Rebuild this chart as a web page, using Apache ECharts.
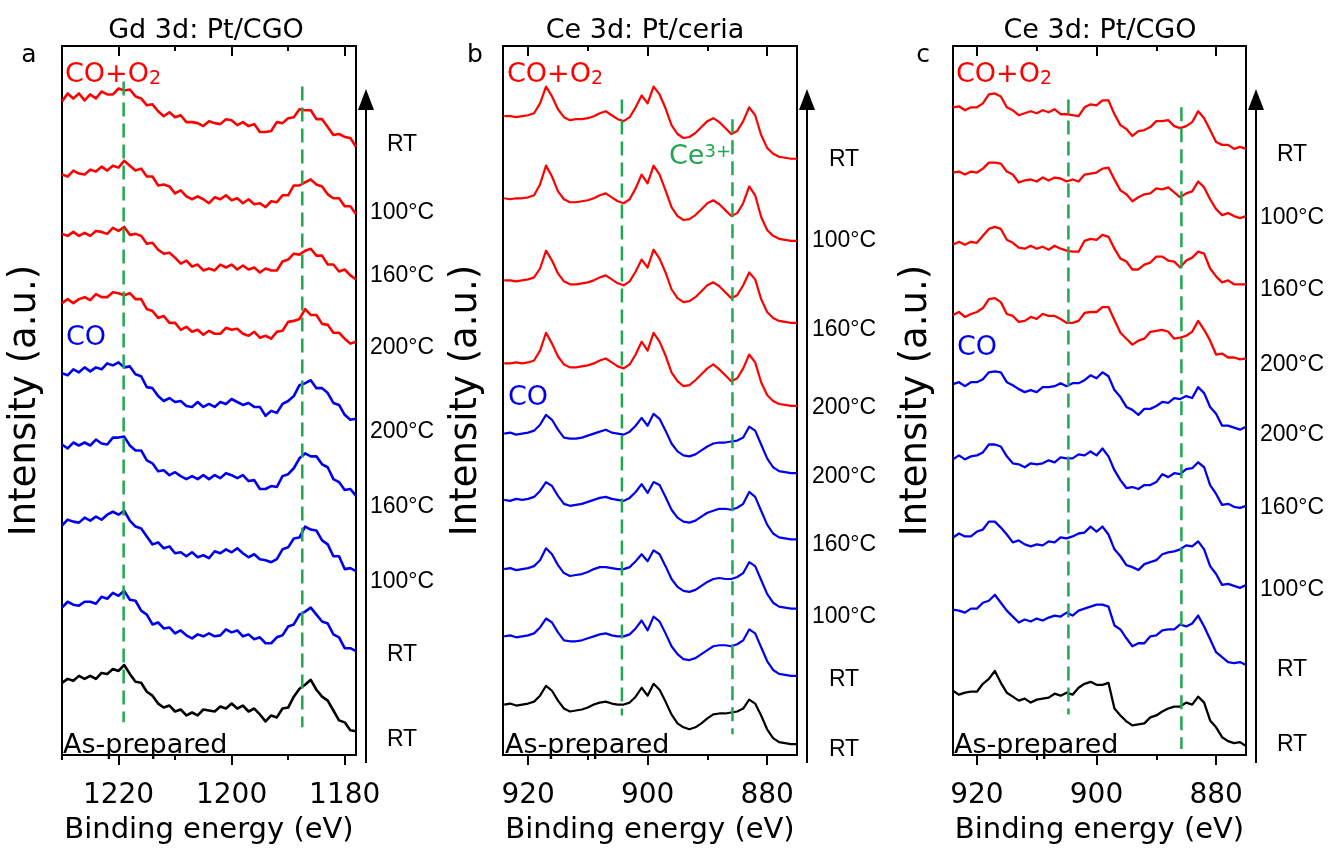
<!DOCTYPE html>
<html><head><meta charset="utf-8">
<script src="https://cdn.jsdelivr.net/npm/echarts@6/dist/echarts.min.js"></script>
<style>html,body{margin:0;padding:0;background:#fff}#c{width:1331px;height:850px}</style>
</head><body><div id="c"></div><script>
// ---------- binding energies (eV) ----------
const energyA = [1230,1229,1228,1227,1226,1225,1224,1223,1222,1221,1220,1219,1218,1217,1216,1215,1214,1213,1212,1211,1210,1209,1208,1207,1206,1205,1204,1203,1202,1201,1200,1199,1198,1197,1196,1195,1194,1193,1192,1191,1190,1189,1188,1187,1186,1185,1184,1183,1182,1181,1180,1179,1178];
const energyBC = [924,923,922,921,920,919,918,917,916,915,914,913,912,911,910,909,908,907,906,905,904,903,902,901,900,899,898,897,896,895,894,893,892,891,890,889,888,887,886,885,884,883,882,881,880,879,878,877,876,875];

// ---------- tick values ----------
const ticksA = [1180,1200,1220];
const minorA = [1190,1210,1230];
const ticksBC = [880,900,920];
const minorBC = [890,910];

// ---------- condition labels (top to bottom) ----------
const condLabels = ['RT','100°C','160°C','200°C','200°C','160°C','100°C','RT','RT'];

// ---------- panel a: Gd 3d Pt/CGO (stacked intensities, a.u.) ----------
const gd_O2_RT  = [661,669,664,669,662,668,664,671,668,668,674,672,673,666,664,657,658,651,646,650,645,647,640,640,639,636,641,639,638,643,642,637,640,636,638,630,630,631,640,639,644,645,653,652,652,643,643,635,627,628,625,624,615];
const gd_O2_100 = [587,585,591,588,587,592,590,595,591,596,594,601,596,591,593,585,585,576,577,575,568,571,565,562,565,562,558,564,562,566,561,563,558,562,557,558,554,560,559,566,566,576,576,579,582,577,575,567,563,563,555,555,547];
const gd_O2_160 = [527,525,529,525,528,525,530,529,527,533,530,534,526,527,525,517,518,511,507,508,503,497,500,494,496,490,492,490,496,493,496,491,495,491,493,488,492,490,490,499,501,507,506,510,512,505,505,496,496,489,491,485,481];
const gd_O2_200 = [457,461,457,461,463,460,466,463,463,468,467,465,467,461,461,451,449,442,444,437,437,430,433,428,430,425,429,426,426,432,430,431,426,424,428,422,424,421,428,429,438,439,441,451,445,445,436,435,427,427,421,416,418];
const gd_CO_200 = [386,384,390,387,392,388,392,390,396,394,397,392,393,385,383,372,371,363,358,361,357,358,353,352,357,352,355,352,357,355,360,357,354,356,352,352,343,348,346,355,358,363,374,376,379,371,371,366,356,354,344,339,340];
const gd_CO_160 = [314,310,316,313,316,313,319,315,314,321,321,322,313,308,308,298,295,287,288,283,286,282,279,282,279,283,279,283,280,285,283,280,283,277,278,269,269,272,271,282,284,290,300,305,302,302,294,291,279,276,268,269,262];
const gd_CO_100 = [232,238,236,235,240,237,241,238,243,246,243,247,237,231,229,221,213,215,209,211,204,205,201,205,200,202,199,206,204,208,205,209,204,200,203,198,197,195,198,208,210,219,220,231,228,227,217,213,201,201,188,189,186];
const gd_CO_RT  = [149,155,152,151,155,155,153,160,158,164,161,166,157,156,146,142,132,134,128,129,123,126,121,118,122,120,123,120,121,127,124,126,120,122,117,119,113,113,119,121,130,132,142,145,149,142,135,133,122,119,108,108,105];
const gd_asPrep = [73,77,75,80,77,80,77,83,82,87,85,91,82,74,73,64,60,52,48,50,44,46,40,43,40,46,45,44,49,47,52,47,50,44,47,41,34,40,38,47,48,59,67,71,76,66,59,55,45,35,33,25,24];

// ---------- panel b: Ce 3d Pt/ceria ----------
const ceria_O2_RT  = [646,646,645,646,647,649,659,676,666,653,645,642,643,643,644,646,649,651,647,643,641,645,655,667,659,676,668,654,637,628,624,625,629,635,641,644,640,634,628,631,641,655,647,627,614,608,605,604,603,603];
const ceria_O2_100 = [563,562,563,563,564,566,577,596,585,570,562,559,559,560,561,563,566,568,564,560,558,562,573,587,578,596,587,571,554,545,541,542,546,552,558,561,557,551,545,548,558,575,566,544,531,525,522,521,520,520];
const ceria_O2_160 = [480,480,479,480,481,483,492,510,500,487,479,476,476,477,478,480,483,485,481,477,475,479,489,501,493,511,502,488,471,462,458,459,463,469,475,478,474,468,462,465,475,488,481,461,448,442,439,438,437,437];
const ceria_O2_200 = [396,396,397,396,397,399,409,427,416,403,395,392,392,393,394,396,399,401,397,393,391,395,405,418,409,427,418,404,387,378,373,374,379,385,391,395,390,384,378,381,391,405,397,377,364,358,355,354,353,353];
const ceria_CO_200 = [325,326,324,325,326,328,334,344,339,329,321,320,320,321,323,325,327,329,326,325,324,327,333,341,333,345,340,328,315,307,303,302,304,308,312,315,316,316,317,318,321,332,328,314,300,291,287,286,285,285];
const ceria_CO_160 = [258,257,259,258,259,261,267,276,272,262,254,252,253,254,256,258,260,261,259,258,257,260,266,274,265,276,273,261,248,240,236,235,237,241,245,247,249,249,248,250,254,266,261,247,233,224,220,219,218,218];
const ceria_CO_100 = [188,189,187,188,189,191,197,209,203,192,184,181,182,183,185,188,190,190,189,188,188,190,196,203,196,207,203,191,178,170,166,165,167,171,175,178,179,178,178,180,184,195,191,177,163,154,150,149,148,148];
const ceria_CO_RT  = [120,121,119,120,121,123,129,138,134,124,116,115,115,116,118,120,122,123,121,120,120,122,128,136,126,140,135,123,110,102,97,96,98,102,106,110,111,111,110,112,116,127,123,109,95,86,82,81,80,80];
const ceria_asPrep = [51,52,50,51,52,54,60,70,65,55,47,44,45,46,48,51,53,54,52,51,51,53,59,68,60,72,66,54,41,32,28,26,28,32,37,41,42,42,43,44,47,56,52,40,26,17,13,12,11,11];

// ---------- panel c: Ce 3d Pt/CGO ----------
const cgo_O2_RT  = [655,656,652,655,655,659,668,669,666,655,652,647,649,651,649,652,650,653,648,648,647,646,655,658,657,662,662,648,637,633,626,631,632,635,641,641,642,636,634,636,640,651,644,632,620,617,617,613,615,613];
const cgo_O2_100 = [589,590,587,590,589,593,599,599,598,590,587,579,581,582,580,584,581,584,583,580,582,580,587,588,589,593,594,582,571,567,560,564,567,568,573,572,574,569,564,568,570,580,574,562,552,546,548,545,543,545];
const cgo_O2_160 = [516,519,516,519,518,525,532,534,532,521,518,513,512,515,512,514,511,515,512,510,509,509,520,522,521,526,524,512,502,499,491,491,496,498,504,504,500,499,493,500,503,509,507,492,484,478,480,476,476,476];
const cgo_O2_200 = [445,448,443,446,448,452,461,462,458,446,444,438,439,443,441,446,444,444,441,437,437,439,447,448,448,453,453,440,427,421,415,419,421,428,429,430,428,421,422,424,428,439,430,419,405,406,402,402,400,401];
const cgo_CO_200 = [375,377,373,377,377,380,387,388,387,377,374,370,367,369,367,372,372,373,376,373,376,376,379,384,381,387,383,369,362,352,349,344,350,350,353,357,356,361,360,363,361,372,366,352,345,333,333,331,329,332];
const cgo_CO_160 = [299,303,299,302,303,306,314,314,312,302,295,294,291,295,294,295,298,296,301,300,300,304,303,307,303,310,302,288,278,270,271,269,273,273,276,284,281,285,284,289,290,296,291,273,264,253,254,251,250,252];
const cgo_CO_100 = [220,224,221,221,226,228,236,236,230,223,215,217,213,211,213,212,216,215,220,219,221,224,225,231,226,231,223,208,201,192,190,187,193,195,197,203,205,206,208,212,211,216,208,191,183,172,173,171,169,172];
const cgo_CO_RT  = [147,146,144,148,148,154,156,162,154,146,140,134,137,135,138,136,139,141,140,144,141,146,148,150,152,152,150,131,127,118,110,113,113,120,121,126,127,127,132,130,133,141,130,117,104,99,94,93,94,91];
const cgo_asPrep = [65,61,63,64,64,72,77,85,73,63,59,55,57,53,56,57,58,62,60,63,61,68,72,74,71,71,73,47,40,34,30,31,32,38,40,44,47,49,49,53,51,59,53,35,28,18,14,12,13,9];

// ---------- dashed guide lines (energy, top, bottom in a.u.) ----------
const guideA_E = [1219.1, 1187.5], guideA_top = [681, 676], guideA_bot = [33, 28];
const guideB_E = [904.3, 885.8],   guideB_top = [663, 643], guideB_bot = [40, 21];
const guideC_E = [904.7, 885.8],   guideC_top = [663, 655], guideC_bot = [41, 6];

// ---------- layout / styling ----------
const RED = '#ff0000', BLUE = '#0000f0', BLACK = '#000000', GREEN = '#1fa84f';
const specColors = [RED,RED,RED,RED,BLUE,BLUE,BLUE,BLUE,BLACK];
const FONT = 'DejaVu Sans';
const panels = [
  {left:62, width:294, min:1178, max:1230, energies:energyA, major:ticksA, minor:minorA, lw:2.6,
   spectra:[gd_O2_RT,gd_O2_100,gd_O2_160,gd_O2_200,gd_CO_200,gd_CO_160,gd_CO_100,gd_CO_RT,gd_asPrep],
   gE:guideA_E, gT:guideA_top, gB:guideA_bot,
   title:'Gd 3d: Pt/CGO', titleX:206, letter:'a', letterX:29, labelX:402,
   labelYs:[145,213,276,348,432,507,582,655,740], arrowX:366, tagX:65, coY:338},
  {left:503, width:294, min:875, max:924.2, energies:energyBC, major:ticksBC, minor:minorBC, lw:2.2,
   spectra:[ceria_O2_RT,ceria_O2_100,ceria_O2_160,ceria_O2_200,ceria_CO_200,ceria_CO_160,ceria_CO_100,ceria_CO_RT,ceria_asPrep],
   gE:guideB_E, gT:guideB_top, gB:guideB_bot,
   title:'Ce 3d: Pt/ceria', titleX:645, letter:'b', letterX:475, labelX:844,
   labelYs:[160,241,330,408,477,545,617,680,750], arrowX:807, tagX:507, coY:398},
  {left:953, width:293, min:875, max:924, energies:energyBC, major:ticksBC, minor:minorBC, lw:2.3,
   spectra:[cgo_O2_RT,cgo_O2_100,cgo_O2_160,cgo_O2_200,cgo_CO_200,cgo_CO_160,cgo_CO_100,cgo_CO_RT,cgo_asPrep],
   gE:guideC_E, gT:guideC_top, gB:guideC_bot,
   title:'Ce 3d: Pt/CGO', titleX:1100, letter:'c', letterX:923, labelX:1292,
   labelYs:[155,218,290,365,435,508,590,670,745], arrowX:1256, tagX:956, coY:348}
];

const grid = [], xAxis = [], yAxis = [], series = [], graphic = [];
const lineBlack = {color:'#000', width:2};
panels.forEach((p, i) => {
  grid.push({left:p.left, top:46, width:p.width, height:717, containLabel:false});
  const base = {gridIndex:i, type:'value', min:p.min, max:p.max, inverse:true, splitLine:{show:false}};
  xAxis.push(Object.assign({}, base, {position:'bottom',
    axisLine:{show:true, onZero:false, lineStyle:lineBlack},
    axisTick:{show:true, inside:false, length:10, customValues:p.major, lineStyle:lineBlack},
    axisLabel:{show:true, customValues:p.major, formatter:v => String(v), fontSize:28, fontFamily:FONT, color:'#000', margin:27},
    name:'Binding energy (eV)', nameLocation:'middle', nameGap:61,
    nameTextStyle:{fontSize:29, fontFamily:FONT, color:'#000'}}));
  xAxis.push(Object.assign({}, base, {position:'bottom',
    axisLine:{show:false, onZero:false}, axisLabel:{show:false},
    axisTick:{show:true, inside:false, length:5, customValues:p.minor, lineStyle:lineBlack}}));
  xAxis.push(Object.assign({}, base, {position:'top',
    axisLine:{show:true, onZero:false, lineStyle:lineBlack}, axisLabel:{show:false},
    axisTick:{show:true, inside:true, length:10, customValues:p.major, lineStyle:lineBlack}}));
  xAxis.push(Object.assign({}, base, {position:'top',
    axisLine:{show:false, onZero:false}, axisLabel:{show:false},
    axisTick:{show:true, inside:true, length:5, customValues:p.minor, lineStyle:lineBlack}}));
  yAxis.push({gridIndex:i, type:'value', min:0, max:717, position:'left',
    axisLine:{show:true, onZero:false, lineStyle:lineBlack}, axisTick:{show:false}, axisLabel:{show:false},
    splitLine:{show:false}, name:'Intensity (a.u.)', nameLocation:'middle', nameGap:18, nameRotate:90,
    nameTextStyle:{fontSize:37, fontFamily:FONT, color:'#000'}});
  yAxis.push({gridIndex:i, type:'value', min:0, max:717, position:'right',
    axisLine:{show:true, onZero:false, lineStyle:lineBlack}, axisTick:{show:false}, axisLabel:{show:false},
    splitLine:{show:false}});

  p.spectra.forEach((vals, k) => {
    series.push({type:'line', xAxisIndex:4*i, yAxisIndex:2*i, showSymbol:false, silent:true,
      data:p.energies.map((e, j) => [e, vals[j]]), z:2,
      lineStyle:{color:specColors[k], width:p.lw, join:'round'}, itemStyle:{color:specColors[k]}});
  });
  p.gE.forEach((e, k) => {
    series.push({type:'line', xAxisIndex:4*i, yAxisIndex:2*i, showSymbol:false, silent:true, z:5,
      data:[[e, p.gT[k]], [e, p.gB[k]]],
      lineStyle:{color:GREEN, width:2.5, type:[14,7]}});
  });

  // titles, panel letters, annotations
  graphic.push({type:'text', x:p.titleX, y:31, style:{text:p.title, fontSize:27, fontFamily:FONT, fill:'#000', align:'center', verticalAlign:'middle'}});
  graphic.push({type:'text', x:p.letterX, y:55, style:{text:p.letter, fontSize:25, fontFamily:FONT, fill:'#000', align:'center', verticalAlign:'middle'}});
  graphic.push({type:'text', x:p.tagX, y:75, style:{text:'{m|CO+O}{s|2}', fill:RED, align:'left', verticalAlign:'middle',
    rich:{m:{fontSize:27, fontFamily:FONT, fill:RED, verticalAlign:'bottom'}, s:{fontSize:19, fontFamily:FONT, fill:RED, verticalAlign:'bottom'}}}});
  graphic.push({type:'text', x:p.tagX + 1, y:p.coY, style:{text:'CO', fontSize:27, fontFamily:FONT, fill:BLUE, align:'left', verticalAlign:'middle'}});
  graphic.push({type:'text', x:p.tagX - 2, y:746, style:{text:'As-prepared', fontSize:27, fontFamily:FONT, fill:'#000', align:'left', verticalAlign:'middle'}});
  condLabels.forEach((t, k) => {
    graphic.push({type:'text', x:p.labelX, y:p.labelYs[k], style:{text:t, fontSize:23, fontFamily:'Liberation Sans', fill:'#000', align:'center', verticalAlign:'middle'}});
  });
  // temperature-sequence arrow
  graphic.push({type:'line', shape:{x1:p.arrowX, y1:763, x2:p.arrowX, y2:106}, style:{stroke:'#000', lineWidth:2}});
  graphic.push({type:'polygon', shape:{points:[[p.arrowX,89],[p.arrowX-8,110],[p.arrowX+8,110]]}, style:{fill:'#000'}});
});
graphic.push({type:'text', x:669, y:157, style:{text:'{m|Ce}{s|3+}', fill:GREEN, align:'left', verticalAlign:'middle',
  rich:{m:{fontSize:27, fontFamily:FONT, fill:GREEN, verticalAlign:'bottom'}, s:{fontSize:18, fontFamily:FONT, fill:GREEN, verticalAlign:'top'}}}});

const chart = echarts.init(document.getElementById('c'), null, {renderer:'canvas'});
chart.setOption({animation:false, backgroundColor:'#fff', grid, xAxis, yAxis, series, graphic});
</script></body></html>
